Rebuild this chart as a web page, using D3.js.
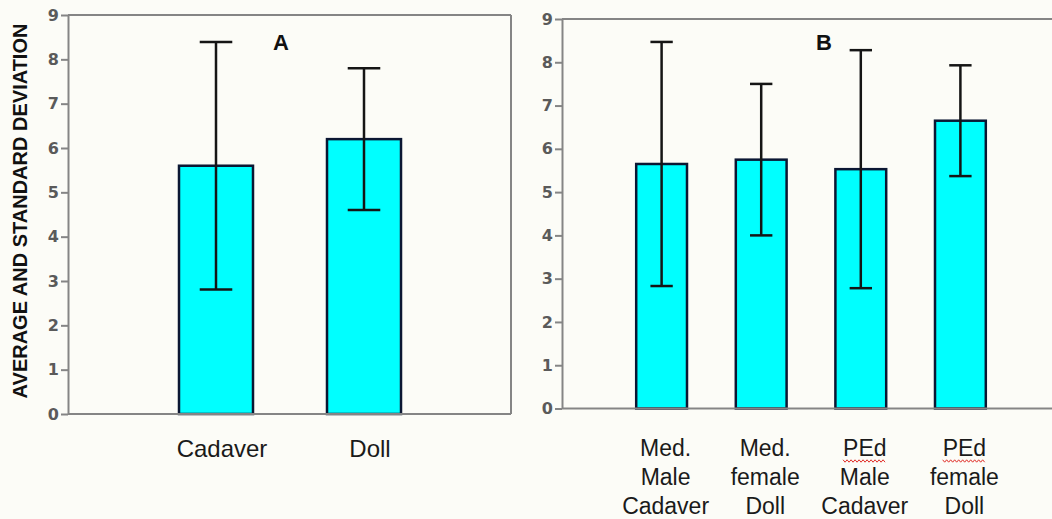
<!DOCTYPE html>
<html>
<head>
<meta charset="utf-8">
<script src="https://cdn.jsdelivr.net/npm/d3@7"></script>
<style>
  body { margin: 0; background: #fcfcf7; }
  svg { display: block; }
</style>
</head>
<body>
<div id="chart"></div>
<script>
// Define svg size
var svgWidth = 1052;
var svgHeight = 519;

// Data
var yTicks = [0, 1, 2, 3, 4, 5, 6, 7, 8, 9];

var panelACategories = ["Cadaver", "Doll"];
var panelAMeans = [5.6, 6.2];
var panelASD = [2.79, 1.6];

var panelBCategories = ["MedMaleCadaver", "MedFemaleDoll", "PEdMaleCadaver", "PEdFemaleDoll"];
var panelBLabels = [
  ["Med.", "Male", "Cadaver"],
  ["Med.", "female", "Doll"],
  ["PEd", "Male", "Cadaver"],
  ["PEd", "female", "Doll"]
];
var panelBMeans = [5.65, 5.75, 5.53, 6.65];
var panelBSD = [2.82, 1.75, 2.75, 1.28];

var svg = d3.select("#chart")
  .append("svg")
  .attr("width", svgWidth)
  .attr("height", svgHeight);

// y axis title shared by both panels
svg.append("text")
  .attr("transform", "translate(27, 211) rotate(-90)")
  .attr("text-anchor", "middle")
  .attr("font-family", "Liberation Sans, Arial, sans-serif")
  .attr("font-weight", "bold")
  .attr("font-size", 20)
  .attr("fill", "#111")
  .text("AVERAGE AND STANDARD DEVIATION");

// draws one panel: frame, axis, bars and error bars
function drawPanel(p) {
  var g = svg.append("g");

  var y = d3.scaleLinear()
    .domain([0, 9])
    .range([p.bottom, p.top]);

  var x = d3.scalePoint()
    .domain(p.categories)
    .range([p.left, p.axisEnd])
    .padding(1);

  var barWidth = x.step() * p.barRatio;
  var capHalf = barWidth * 0.22;

  var data = p.categories.map(function(c, i) {
    return { cat: c, mean: p.means[i], sd: p.sd[i], lines: p.labels[i] };
  });

  // frame top / right
  g.append("line")
    .attr("x1", p.left).attr("x2", p.frameRight)
    .attr("y1", p.top).attr("y2", p.top)
    .attr("stroke", "#858585").attr("stroke-width", 2);
  if (p.rightBorder) {
    g.append("line")
      .attr("x1", p.frameRight).attr("x2", p.frameRight)
      .attr("y1", p.top).attr("y2", p.bottom)
      .attr("stroke", "#858585").attr("stroke-width", 2);
  }

  // bars
  g.selectAll("rect.bar")
    .data(data)
    .enter()
    .append("rect")
    .attr("class", "bar")
    .attr("x", d => x(d.cat) - barWidth / 2)
    .attr("y", d => y(d.mean))
    .attr("width", barWidth)
    .attr("height", d => y(0) - y(d.mean))
    .attr("fill", "#00ffff")
    .attr("stroke", "#0b1733")
    .attr("stroke-width", 2.5);

  // error bars
  var err = g.selectAll("g.err")
    .data(data)
    .enter()
    .append("g")
    .attr("class", "err")
    .attr("stroke", "#151515")
    .attr("stroke-width", 2.5);

  err.append("line")
    .attr("x1", d => x(d.cat)).attr("x2", d => x(d.cat))
    .attr("y1", d => y(d.mean + d.sd)).attr("y2", d => y(d.mean - d.sd));
  err.append("line")
    .attr("x1", d => x(d.cat) - capHalf).attr("x2", d => x(d.cat) + capHalf)
    .attr("y1", d => y(d.mean + d.sd)).attr("y2", d => y(d.mean + d.sd));
  err.append("line")
    .attr("x1", d => x(d.cat) - capHalf).attr("x2", d => x(d.cat) + capHalf)
    .attr("y1", d => y(d.mean - d.sd)).attr("y2", d => y(d.mean - d.sd));

  // bottom line
  g.append("line")
    .attr("x1", p.left).attr("x2", p.frameRight)
    .attr("y1", y(0)).attr("y2", y(0))
    .attr("stroke", "#858585").attr("stroke-width", 2);

  // y axis
  var yAxis = g.append("g")
    .attr("transform", `translate(${p.left}, 0)`)
    .call(d3.axisLeft(y).tickValues(yTicks).tickSize(7).tickSizeOuter(0).tickPadding(2));
  yAxis.attr("font-size", 16).attr("font-family", "DejaVu Sans, Verdana, sans-serif");
  yAxis.select(".domain").attr("stroke", "#858585").attr("stroke-width", 2);
  yAxis.selectAll(".tick line").attr("stroke", "#858585").attr("stroke-width", 2);
  yAxis.selectAll(".tick text")
    .attr("fill", "#5a5a5a")
    .attr("font-weight", "bold");

  // category labels
  var labels = g.selectAll("text.cat")
    .data(data)
    .enter()
    .append("text")
    .attr("class", "cat")
    .attr("text-anchor", "middle")
    .attr("font-family", "Liberation Sans, Arial, sans-serif")
    .attr("font-size", p.labelSize)
    .attr("fill", "#1a1a1a")
    .attr("x", d => x(d.cat) + p.labelDx)
    .attr("y", p.labelY);

  labels.each(function(d) {
    var t = d3.select(this);
    d.lines.forEach(function(line, i) {
      t.append("tspan")
        .attr("x", x(d.cat) + p.labelDx)
        .attr("dy", i === 0 ? 0 : p.lineHeight)
        .text(line);
    });
  });

  // red spell-check squiggle under "PEd"
  labels.each(function(d) {
    var first = d3.select(this).select("tspan");
    if (first.text() !== "PEd") return;
    var bb = first.node().getBBox();
    var pts = [];
    for (var xx = bb.x; xx <= bb.x + bb.width; xx += 2) {
      pts.push([xx, p.labelY + 5 + ((Math.round((xx - bb.x) / 2) % 2) ? 1.2 : -1.2)]);
    }
    g.append("path")
      .attr("d", d3.line()(pts))
      .attr("fill", "none")
      .attr("stroke", "#e0302a")
      .attr("stroke-width", 1);
  });

  // panel letter
  g.append("text")
    .attr("x", p.letterX)
    .attr("y", 50)
    .attr("text-anchor", "middle")
    .attr("font-family", "Liberation Sans, Arial, sans-serif")
    .attr("font-weight", "bold")
    .attr("font-size", 22)
    .attr("fill", "#111")
    .text(p.letter);
}

drawPanel({
  categories: panelACategories,
  labels: panelACategories.map(c => [c]),
  means: panelAMeans,
  sd: panelASD,
  left: 68, axisEnd: 512, frameRight: 511, rightBorder: true,
  top: 15, bottom: 414,
  barRatio: 0.5,
  labelY: 457, labelSize: 24, lineHeight: 29, labelDx: 6,
  letter: "A", letterX: 281
});

drawPanel({
  categories: panelBCategories,
  labels: panelBLabels,
  means: panelBMeans,
  sd: panelBSD,
  left: 562, axisEnd: 1060, frameRight: 1052, rightBorder: false,
  top: 19, bottom: 408.5,
  barRatio: 0.51,
  labelY: 456, labelSize: 23, lineHeight: 29, labelDx: 4,
  letter: "B", letterX: 824
});
</script>
</body>
</html>
